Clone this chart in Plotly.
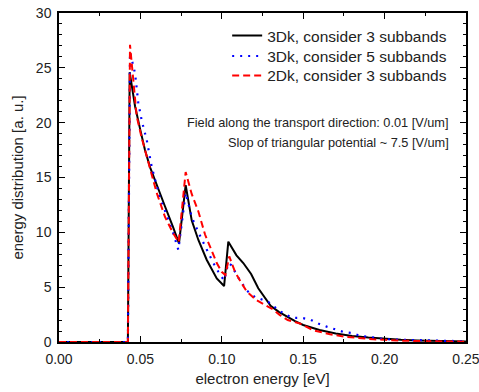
import plotly.graph_objects as go

# 3Dk, consider 3 subbands (black solid)
x_3dk3 = [0.0, 0.0423, 0.0434, 0.0467, 0.050, 0.0528, 0.056, 0.060, 0.065, 0.070, 0.0737,
          0.0778, 0.0815, 0.0856, 0.0907, 0.0969, 0.1014, 0.1040, 0.1090, 0.1132, 0.1180,
          0.1224, 0.1260, 0.1300, 0.1350, 0.1400, 0.1450, 0.1500, 0.1600, 0.1700, 0.1800,
          0.1900, 0.2000, 0.2100, 0.2200, 0.2300, 0.2400, 0.2500]
y_3dk3 = [0.0, 0.0, 24.6, 21.5, 19.3, 17.5, 15.9, 14.3, 12.4, 10.5, 9.0,
          14.3, 11.1, 9.3, 7.5, 5.8, 5.1, 9.15, 7.9, 7.2, 6.2,
          4.9, 4.1, 3.3, 2.75, 2.3, 1.9, 1.55, 1.1, 0.78, 0.55,
          0.4, 0.28, 0.2, 0.14, 0.1, 0.07, 0.05]

# 3Dk, consider 5 subbands (blue dotted)
x_3dk5 = [0.0, 0.0423, 0.0436, 0.0467, 0.0487, 0.0508, 0.0539, 0.0569, 0.062, 0.0661, 0.0702,
          0.0733, 0.0778, 0.0815, 0.0856, 0.0897, 0.0948, 0.0979, 0.1014, 0.1040, 0.1060,
          0.1091, 0.1122, 0.1153, 0.1204, 0.1245, 0.1286, 0.1337, 0.1388, 0.1439, 0.1490,
          0.1542, 0.1593, 0.1644, 0.1695, 0.1747, 0.1798, 0.1849, 0.1900, 0.1950, 0.2000,
          0.2120, 0.2250, 0.2400, 0.2500]
y_3dk5 = [0.0, 0.0, 26.4, 24.5, 21.8, 20.2, 18.4, 16.0, 13.1, 11.6, 9.9,
          8.4, 13.6, 11.4, 10.0, 8.7, 7.2, 6.4, 5.6, 7.2, 7.0,
          6.1, 5.35, 4.7, 4.1, 3.85, 3.65, 3.05, 2.5, 2.2, 2.2,
          2.05, 1.68, 1.4, 1.13, 0.92, 0.82, 0.56, 0.46, 0.34, 0.26,
          0.2, 0.14, 0.09, 0.06]

# 2Dk, consider 3 subbands (red dashed)
x_2dk3 = [0.0, 0.0423, 0.0436, 0.0456, 0.0477, 0.0508, 0.0539, 0.0569, 0.060, 0.0651, 0.0702,
          0.0735, 0.0778, 0.0815, 0.0856, 0.0897, 0.0948, 0.0969, 0.0999, 0.1022, 0.1046,
          0.1081, 0.1122, 0.1153, 0.1214, 0.1255, 0.1306, 0.1357, 0.1405, 0.1480, 0.1562,
          0.1665, 0.1767, 0.1930, 0.2100, 0.2300, 0.2500]
y_2dk3 = [0.0, 0.0, 27.1, 23.8, 20.6, 18.6, 16.9, 15.3, 13.6, 11.4, 9.9,
          9.1, 15.5, 13.5, 11.9, 9.8, 8.07, 7.2, 6.4, 6.1, 7.8,
          6.4, 5.35, 4.6, 3.8, 3.5, 3.05, 2.45, 2.0, 1.68, 1.07,
          0.7, 0.46, 0.25, 0.12, 0.06, 0.03]

series_names = ["3Dk, consider 3 subbands", "3Dk, consider 5 subbands", "2Dk, consider 3 subbands"]
x_ticks = [0.00, 0.05, 0.10, 0.15, 0.20, 0.25]
x_tick_labels = ["0.00", "0.05", "0.10", "0.15", "0.20", "0.25"]
y_ticks = [0, 5, 10, 15, 20, 25, 30]

FONT = "Liberation Sans, Arial, sans-serif"
TXT = "#222"
X_RANGE = [-0.00002, 0.25002]
Y_RANGE = [-0.002, 30.002]

fig = go.Figure()
fig.add_trace(go.Scatter(x=x_3dk3, y=y_3dk3, mode="lines", name=series_names[0], legend="legend",
                         line=dict(color="black", width=2)))
fig.add_trace(go.Scatter(x=x_3dk5, y=y_3dk5, mode="lines", name=series_names[1], legend="legend2",
                         line=dict(color="#0000ff", width=2.2, dash="2px,6px")))
fig.add_trace(go.Scatter(x=x_2dk3, y=y_2dk3, mode="lines", name=series_names[2], legend="legend3",
                         line=dict(color="#ff0000", width=2, dash="7px,4px")))
# empty helper traces so the mirrored top/right tick axes get drawn
fig.add_trace(go.Scatter(x=[], y=[], xaxis="x2", yaxis="y", showlegend=False, hoverinfo="skip"))
fig.add_trace(go.Scatter(x=[], y=[], xaxis="x", yaxis="y2", showlegend=False, hoverinfo="skip"))

tick_common = dict(showgrid=False, zeroline=False, ticks="inside", ticklen=6, tickwidth=1.2,
                   tickcolor="black", automargin=False)

fig.update_layout(
    xaxis=dict(range=X_RANGE, tickvals=x_ticks, ticktext=x_tick_labels,
               showline=True, linecolor="black", linewidth=1.5, mirror=True,
               tickfont=dict(family=FONT, size=14, color=TXT), ticklabeloverflow="allow",
               ticklabelstandoff=3,
               minor=dict(dtick=0.025, tick0=0, ticks="inside", ticklen=3, tickcolor="black"),
               title=dict(text="electron energy [eV]", font=dict(family=FONT, size=15, color=TXT),
                          standoff=8),
               **tick_common),
    yaxis=dict(range=Y_RANGE, tickvals=y_ticks,
               showline=True, linecolor="black", linewidth=1.5, mirror=True,
               tickfont=dict(family=FONT, size=14, color=TXT), ticklabeloverflow="allow",
               ticklabelstandoff=3,
               minor=dict(dtick=1, tick0=0, ticks="inside", ticklen=3, tickcolor="black"),
               title=dict(text="energy distribution [a. u.]", font=dict(family=FONT, size=15, color=TXT),
                          standoff=9),
               **tick_common),
    xaxis2=dict(range=X_RANGE, overlaying="x", side="top", anchor="y", tickvals=x_ticks,
                showticklabels=False, showline=False,
                minor=dict(dtick=0.025, tick0=0, ticks="inside", ticklen=3, tickcolor="black"),
                **tick_common),
    yaxis2=dict(range=Y_RANGE, overlaying="y", side="right", anchor="x", tickvals=y_ticks,
                showticklabels=False, showline=False,
                minor=dict(dtick=1, tick0=0, ticks="inside", ticklen=3, tickcolor="black"),
                **tick_common),
)

fig.add_annotation(text="Field along the transport direction: 0.01 [V/um]", xref="paper", yref="paper",
                   x=0.963, y=0.666, xanchor="right", yanchor="middle", showarrow=False,
                   font=dict(family=FONT, size=12.75, color=TXT))
fig.add_annotation(text="Slop of triangular potential ~ 7.5 [V/um]", xref="paper", yref="paper",
                   x=0.963, y=0.607, xanchor="right", yanchor="middle", showarrow=False,
                   font=dict(family=FONT, size=12.75, color=TXT))

legend_common = dict(xanchor="right", yanchor="middle", bgcolor="rgba(0,0,0,0)",
                     font=dict(family=FONT, size=15.5, color=TXT), itemwidth=30)

fig.update_layout(
    width=479, height=392,
    margin=dict(l=59, r=13, t=13, b=50, autoexpand=False),
    plot_bgcolor="white", paper_bgcolor="white",
    font=dict(family=FONT, color=TXT),
    legend=dict(x=0.966, y=0.930, **legend_common),
    legend2=dict(x=0.966, y=0.868, **legend_common),
    legend3=dict(x=0.966, y=0.809, **legend_common),
    showlegend=True,
)

# remove the default page margin so the figure sits at the window's top-left corner
fig.write_html("out.html", config={"displayModeBar": False},
               post_script="document.body.style.margin='0';")
